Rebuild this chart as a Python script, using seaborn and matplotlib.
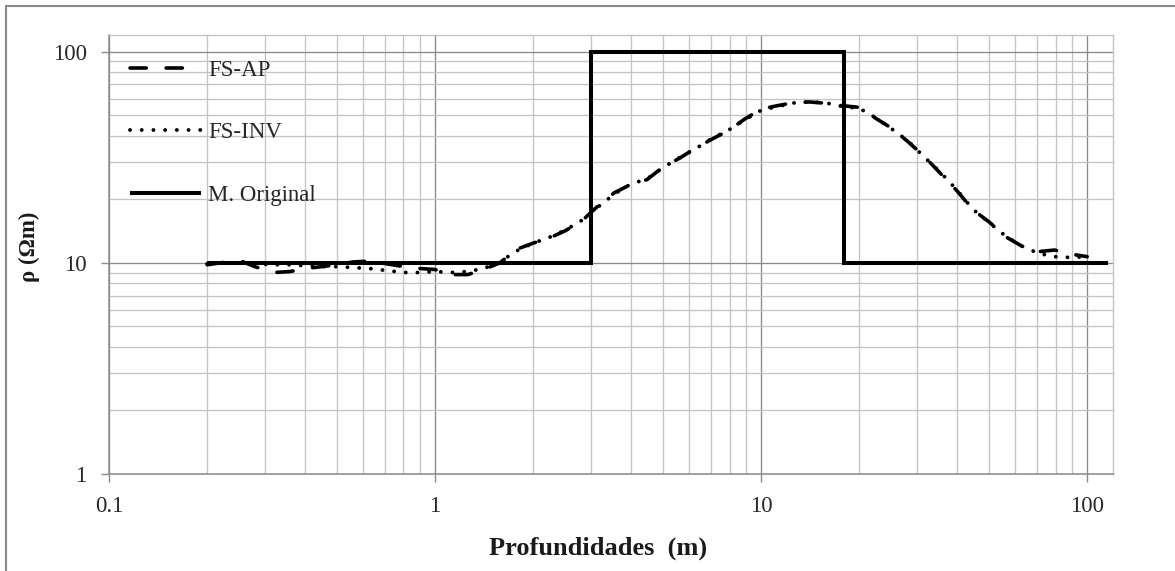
import numpy as np
import pandas as pd
import matplotlib
matplotlib.use("Agg")
import matplotlib.pyplot as plt
from matplotlib.patches import Rectangle
from matplotlib.ticker import LogLocator, NullFormatter, FixedFormatter, FixedLocator
import seaborn as sns

# ---- data -------------------------------------------------------------
depth = [0.2, 0.22, 0.25, 0.28, 0.32, 0.36, 0.4, 0.45, 0.5, 0.56, 0.63, 0.71,
         0.8, 0.9, 1.0, 1.12, 1.26, 1.41, 1.58, 1.78, 2.0, 2.24, 2.51, 2.82,
         3.16, 3.55, 3.98, 4.47, 5.01, 5.62, 6.31, 7.08, 7.94, 8.91, 10.0,
         11.2, 12.6, 14.1, 15.8, 17.8, 20.0, 22.4, 25.1, 28.2, 31.6, 35.5,
         39.8, 44.7, 50.1, 56.2, 63.1, 70.8, 79.4, 89.1, 100.0]

fs_ap = [9.8, 10.0, 10.3, 9.6, 9.0, 9.1, 9.4, 9.6, 9.8, 10.1, 10.2, 9.9,
         9.6, 9.4, 9.3, 8.8, 8.8, 9.3, 10.0, 11.6, 12.4, 13.1, 14.2, 15.8,
         18.6, 21.5, 23.5, 24.8, 28.5, 31.3, 35.0, 38.6, 42.3, 48.0, 53.5,
         55.5, 57.4, 57.8, 57.0, 55.5, 54.5, 48.5, 43.5, 37.5, 32.0, 26.5,
         22.0, 17.8, 15.6, 13.3, 12.0, 11.3, 11.5, 11.0, 10.7]

fs_inv = [9.9, 10.0, 10.0, 9.9, 9.8, 9.8, 9.7, 9.6, 9.6, 9.5, 9.4, 9.2,
          9.0, 9.0, 9.1, 9.0, 9.1, 9.4, 10.1, 11.4, 12.4, 13.2, 14.3, 15.9,
          18.4, 21.2, 23.6, 25.0, 28.3, 31.5, 34.8, 38.9, 42.5, 47.6, 52.8,
          55.0, 57.2, 57.9, 57.2, 55.0, 54.0, 48.8, 43.2, 37.8, 31.8, 26.8,
          22.2, 17.9, 15.5, 13.4, 12.0, 11.1, 10.7, 10.6, 10.7]

model_depth = [0.2, 3.0, 3.0, 18.0, 18.0, 116.0]
model_rho = [10.0, 10.0, 100.0, 100.0, 10.0, 10.0]

x_ticks = [0.1, 1, 10, 100]
x_tick_labels = ["0.1", "1", "10", "100"]
y_ticks = [1, 10, 100]
y_tick_labels = ["1", "10", "100"]

# ---- style ------------------------------------------------------------
sns.set_style("white")
plt.rcParams["font.family"] = ["Liberation Serif", "DejaVu Serif"]

W, H = 1175, 571
fig = plt.figure(figsize=(W / 100, H / 100), dpi=100)
ax = fig.add_axes([109 / W, 1 - 474 / H, (1113 - 109) / W, (474 - 35) / H])

major_c = "#8a8a8a"
minor_c = "#c4c4c4"
fs_tick = 16.5

# ---- series -----------------------------------------------------------
df = pd.DataFrame({"depth": depth, "FS-AP": fs_ap, "FS-INV": fs_inv})
dfm = pd.DataFrame({"depth": model_depth, "rho": model_rho})

sns.lineplot(data=dfm, x="depth", y="rho", ax=ax, color="black", lw=2.9,
             estimator=None, sort=False, label="M. Original",
             solid_joinstyle="miter", solid_capstyle="butt", zorder=4)
sns.lineplot(data=df, x="depth", y="FS-INV", ax=ax, color="black", lw=2.8,
             estimator=None, sort=False, label="FS-INV",
             linestyle=(0, (0.01, 3.0)), dash_capstyle="round", zorder=5)
sns.lineplot(data=df, x="depth", y="FS-AP", ax=ax, color="black", lw=2.6,
             estimator=None, sort=False, label="FS-AP",
             linestyle=(0, (4.5, 5.5)), dash_capstyle="round", zorder=6)

# ---- axes -------------------------------------------------------------
ax.set_xscale("log")
ax.set_yscale("log")
ax.set_xlim(0.1, 120)
ax.set_ylim(1, 120)

ax.xaxis.set_major_locator(FixedLocator(x_ticks))
ax.xaxis.set_major_formatter(FixedFormatter(x_tick_labels))
ax.yaxis.set_major_locator(FixedLocator(y_ticks))
ax.yaxis.set_major_formatter(FixedFormatter(y_tick_labels))
for axis in (ax.xaxis, ax.yaxis):
    axis.set_minor_locator(LogLocator(base=10, subs=np.arange(2, 10), numticks=20))
    axis.set_minor_formatter(NullFormatter())

ax.grid(which="major", color=major_c, lw=0.95, zorder=0)
ax.grid(which="minor", color=minor_c, lw=0.95, zorder=0)
ax.set_axisbelow(True)

ax.tick_params(which="major", direction="out", length=6, width=1.0,
               color=major_c, labelsize=fs_tick, labelcolor="#262626",
               left=True, bottom=True)
ax.tick_params(axis="x", which="major", pad=10)
ax.tick_params(axis="y", which="major", pad=10)
ax.tick_params(which="minor", length=0)

for side in ("left", "bottom"):
    ax.spines[side].set_color(major_c)
    ax.spines[side].set_linewidth(1.1)
for side in ("top", "right"):
    ax.spines[side].set_color(minor_c)
    ax.spines[side].set_linewidth(1.0)

ax.set_xlabel("Profundidades  (m)", fontsize=19, fontweight="bold",
              color="#1a1a1a")
ax.set_ylabel("ρ (Ωm)", fontsize=16.5, fontweight="bold", color="#1a1a1a")
ax.xaxis.set_label_coords(0.487, -0.142)
ax.yaxis.set_label_coords(-0.069, 0.517)

# ---- legend -----------------------------------------------------------
handles, labels = ax.get_legend_handles_labels()
order = [labels.index(n) for n in ("FS-AP", "FS-INV", "M. Original")]
ax.legend([handles[i] for i in order], [labels[i] for i in order],
          loc="upper left", bbox_to_anchor=(130 / W, 1 - 60 / H),
          bbox_transform=fig.transFigure, frameon=False, fontsize=fs_tick,
          handlelength=3.1, handletextpad=0.3, labelspacing=1.8,
          borderpad=0, borderaxespad=0)

# chart-area outline
fig.patches.append(Rectangle((6 / W, -0.05), 1.05, 1 - 6 / H + 0.05,
                             transform=fig.transFigure, fill=False,
                             edgecolor="#8a8a8a", lw=1.5, zorder=10))

fig.savefig("out.png", dpi=100)
